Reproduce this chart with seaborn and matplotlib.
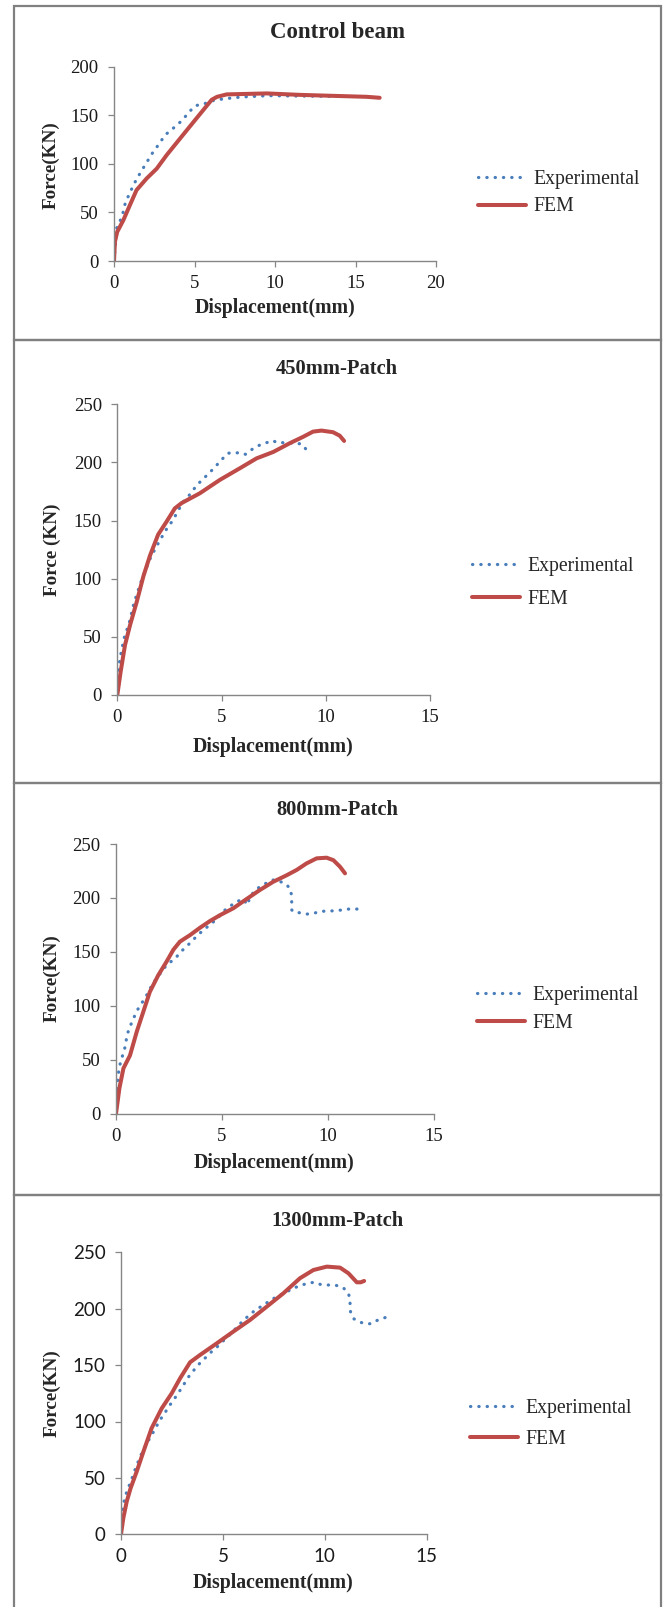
import matplotlib
matplotlib.use("Agg")
import matplotlib.pyplot as plt
import seaborn as sns
from matplotlib.patches import Rectangle

# ---------------------------------------------------------------
# Load-displacement data (displacement in mm, force in kN)
# ---------------------------------------------------------------
# Control beam
cb_exp_x = [0.0, 0.17, 0.37, 0.54, 0.62, 0.75, 0.93, 1.12, 1.3, 1.5, 1.72, 1.97, 2.2, 2.42,
            2.69, 2.94, 3.2, 3.52, 3.85, 4.18, 4.5, 4.76, 5.07, 5.5, 5.96, 6.27, 7.1, 7.93,
            8.76, 9.6, 11.35, 13.4]
cb_exp_y = [0, 34, 41, 48, 55, 62, 68, 75, 81, 87, 93, 100, 106, 112,
            118, 124, 130, 134.5, 139, 144, 150, 155, 160, 161.2, 164, 165.7, 167.4, 168.8,
            169.5, 170.2, 169.8, 169.5]
cb_fem_x = [0, 0.06, 0.2, 0.58, 1.0, 1.4, 2.03, 2.65, 3.27, 4.1, 5.13, 6.07, 6.4, 7.0,
            9.5, 11.55, 13.6, 15.7, 16.5]
cb_fem_y = [0, 20, 30, 42, 58, 73, 85, 95, 109, 126, 147, 166, 169, 171.5,
            172.5, 171, 170, 169, 168]

# 450 mm patch
p450_exp_x = [0, 0.05, 0.13, 0.21, 0.29, 0.37, 0.5, 0.61, 0.69, 0.77, 0.89, 1.0, 1.13, 1.25,
              1.4, 1.53, 1.69, 1.88, 2.04, 2.24, 2.44, 2.65, 2.9, 3.16, 3.4, 3.61, 3.85, 4.12,
              4.39, 4.65, 4.89, 5.14, 5.32, 5.6, 5.9, 6.15, 6.3, 6.52, 6.84, 7.16, 7.48, 7.64,
              8.04, 8.83, 9.07]
p450_exp_y = [0, 20, 31.5, 38.7, 46, 52, 58, 64.5, 71, 77, 84, 90, 97, 103,
              109.5, 115.5, 121.5, 127.6, 133, 139, 145, 149.7, 158, 166, 170.6, 175.7, 181, 186,
              190.4, 195.5, 200, 205, 208, 208, 208.5, 207, 209, 212, 215, 217, 218.8, 217,
              217, 216, 211]
p450_fem_x = [0, 0.16, 0.37, 0.61, 0.93, 1.25, 1.57, 1.96, 2.36, 2.76, 3.08, 3.96, 4.92,
              5.88, 6.68, 7.48, 8.27, 8.91, 9.39, 9.79, 10.35, 10.67, 10.88]
p450_fem_y = [0, 20, 43, 60, 80, 102, 120, 138, 149, 160.5, 165, 173.5, 185,
              195, 203.5, 209, 216.5, 222, 226.5, 227.4, 226, 223, 218.5]

# 800 mm patch
p800_exp_x = [0, 0.03, 0.03, 0.06, 0.09, 0.13, 0.19, 0.28, 0.38, 0.47, 0.5, 0.61, 0.74, 0.87,
              1.02, 1.21, 1.39, 1.56, 1.72, 1.92, 2.13, 2.36, 2.6, 2.87, 3.1, 3.37, 3.62, 3.87,
              4.13, 4.39, 4.65, 4.91, 5.15, 5.42, 5.7, 6.0, 6.22, 6.3, 6.52, 6.77, 7.27, 7.5,
              7.98, 8.22, 8.3, 8.3, 8.3, 8.38, 8.66, 9.0, 9.32, 9.64, 9.95, 10.27, 10.66, 11.0,
              11.37, 11.73]
p800_exp_y = [0, 11, 20, 26.6, 32.8, 39.5, 45.7, 52, 58.4, 65, 71.7, 78, 84.4, 90.2,
              96.4, 102.3, 107.8, 114, 120, 125.5, 131, 137, 141, 145.6, 150.8, 155.7, 160.7, 165.6,
              170.3, 174.3, 178.6, 183.6, 188.8, 192.8, 196.5, 199, 193.5, 199.6, 206, 210, 215.7, 217,
              213.5, 209, 202, 195, 189, 187, 186.3, 185, 185.7, 187.3, 188, 188, 188.8, 189.7,
              189.7, 189.7]
p800_fem_x = [0, 0.16, 0.35, 0.66, 0.98, 1.29, 1.6, 2.0, 2.39, 2.71, 3.02, 3.5, 3.97, 4.44,
              4.91, 5.54, 6.17, 6.8, 7.43, 8.06, 8.54, 9.0, 9.48, 9.95, 10.27, 10.58, 10.82]
p800_fem_y = [0, 23.5, 42, 54, 76, 94.5, 113, 128.5, 141, 152, 159.5, 165.6, 172.4, 178.6,
              184, 190.4, 199, 207.4, 215, 221, 226, 232, 236.7, 237.3, 235, 229, 222.8]

# 1300 mm patch
p1300_exp_x = [0, 0.07, 0.15, 0.28, 0.44, 0.6, 0.74, 0.9, 1.05, 1.26, 1.42, 1.62, 1.78, 1.96,
               2.16, 2.34, 2.54, 2.73, 2.9, 3.09, 3.26, 3.45, 3.68, 3.91, 4.17, 4.45, 4.7, 4.94,
               5.19, 5.45, 5.71, 5.97, 6.25, 6.5, 7.0, 7.48, 7.8, 8.13, 8.54, 8.87, 9.28, 9.52,
               9.77, 10.1, 10.5, 10.9, 11.16, 11.24, 11.24, 11.27, 11.43, 11.73, 12.06, 12.3,
               12.47, 12.8, 13.04]
p1300_exp_y = [0, 20, 29, 37.8, 45, 52.6, 60, 66.8, 73.3, 80, 85.7, 91.6, 97, 102.5,
               107.9, 113, 118.2, 123, 127.7, 133, 138.3, 142.7, 147.8, 152.5, 157, 162, 165.8, 170.2,
               174.3, 179, 184, 189, 193.6, 197.4, 203.5, 209, 212, 215, 218.7, 221, 223, 223.4,
               221.6, 221, 221, 218.7, 213.7, 207.7, 201.8, 196, 191, 188, 186.5, 186.8,
               189, 191, 192.7]
p1300_fem_x = [0, 0.11, 0.28, 0.47, 0.77, 1.1, 1.5, 2.0, 2.49, 2.9, 3.39, 3.88, 4.7, 5.51,
               6.33, 7.15, 7.97, 8.78, 9.44, 10.1, 10.75, 11.16, 11.57, 11.76, 11.93]
p1300_fem_y = [0, 14, 29, 40.8, 55.6, 73.3, 94, 111.7, 125, 138.3, 152.5, 159, 169.3, 179.7,
               190, 201.8, 213.7, 227, 234.3, 237.3, 236.4, 231.4, 223.4, 223.4, 224.6]

titles = ["Control beam", "450mm-Patch", "800mm-Patch", "1300mm-Patch"]
y_labels = ["Force(KN)", "Force (KN)", "Force(KN)", "Force(KN)"]
x_label = "Displacement(mm)"
series_names = ["Experimental", "FEM"]
x_ticks = [[0, 5, 10, 15, 20], [0, 5, 10, 15], [0, 5, 10, 15], [0, 5, 10, 15]]
y_ticks = [[0, 50, 100, 150, 200], [0, 50, 100, 150, 200, 250],
           [0, 50, 100, 150, 200, 250], [0, 50, 100, 150, 200, 250]]

# ---------------------------------------------------------------
# Figure layout (pixel geometry at 100 dpi)
# ---------------------------------------------------------------
W, H, DPI = 664, 1607, 100
EXP_COLOR = "#4A7EBB"
FEM_COLOR = "#BE4B48"
AXIS_COLOR = "#868686"
FRAME_COLOR = "#808080"
SERIF = ["Liberation Serif", "DejaVu Serif"]
SANS = ["Lato", "DejaVu Sans"]

sns.set_style("ticks")
plt.rcParams["font.family"] = SERIF

fig = plt.figure(figsize=(W / DPI, H / DPI), dpi=DPI)


def fx(px):
    return px / W


def fy(py):
    return 1 - py / H


panels = [
    dict(data=(cb_exp_x, cb_exp_y, cb_fem_x, cb_fem_y), box=(6, 340),
         ax=(114, 436, 66.7, 261), xmax=20, ymax=200, title_y=33, title_size=16.5,
         ylab=(51, 165), xlab=(275.5, 308), leg=(478, 193), leg_sp=0.45, tick_font=SERIF),
    dict(data=(p450_exp_x, p450_exp_y, p450_fem_x, p450_fem_y), box=(340, 783),
         ax=(117.3, 430, 404.3, 695), xmax=15, ymax=250, title_y=369, title_size=14.8,
         ylab=(52, 550), xlab=(273.5, 747), leg=(472, 583), leg_sp=0.75, tick_font=SERIF),
    dict(data=(p800_exp_x, p800_exp_y, p800_fem_x, p800_fem_y), box=(783, 1195),
         ax=(116, 433.5, 844, 1113.7), xmax=15, ymax=250, title_y=810, title_size=14.8,
         ylab=(52, 978), xlab=(274.5, 1163), leg=(477, 1009.5), leg_sp=0.45, tick_font=SERIF),
    dict(data=(p1300_exp_x, p1300_exp_y, p1300_fem_x, p1300_fem_y), box=(1195, 1625),
         ax=(121, 426.7, 1252.3, 1534.3), xmax=15, ymax=250, title_y=1221, title_size=14.8,
         ylab=(52, 1393), xlab=(273, 1583), leg=(470, 1424), leg_sp=0.6, tick_font=SANS),
]

for i, p in enumerate(panels):
    # panel frame
    top, bottom = p["box"]
    fig.add_artist(Rectangle((fx(13.5), fy(bottom)), fx(661) - fx(13.5), (bottom - top) / H,
                             transform=fig.transFigure, fill=False,
                             edgecolor=FRAME_COLOR, linewidth=1.6))

    left, right, atop, abot = p["ax"]
    ax = fig.add_axes([fx(left), fy(abot), fx(right) - fx(left), (abot - atop) / H])

    ex, ey, fx_, fy_ = p["data"]
    sns.lineplot(x=ex, y=ey, ax=ax, sort=False, estimator=None, color=EXP_COLOR,
                 linewidth=2.3, linestyle=(0, (0.1, 2.5)), dash_capstyle="round",
                 label=series_names[0])
    sns.lineplot(x=fx_, y=fy_, ax=ax, sort=False, estimator=None, color=FEM_COLOR,
                 linewidth=2.9, solid_capstyle="round", solid_joinstyle="round",
                 label=series_names[1])

    ax.set_xlim(0, p["xmax"])
    ax.set_ylim(0, p["ymax"])
    ax.set_xticks(x_ticks[i])
    ax.set_yticks(y_ticks[i])
    ax.set_xlabel("")
    ax.set_ylabel("")
    sns.despine(ax=ax)
    for side in ("left", "bottom"):
        ax.spines[side].set_color(AXIS_COLOR)
        ax.spines[side].set_linewidth(1.0)
    ax.tick_params(axis="both", direction="out", length=4, width=0.9, color=AXIS_COLOR,
                   labelsize=13.5, labelcolor="#1a1a1a")
    ax.tick_params(axis="y", pad=7)
    ax.tick_params(axis="x", pad=6)
    for lab in ax.get_xticklabels() + ax.get_yticklabels():
        lab.set_family(p["tick_font"])
    ax.patch.set_alpha(0)

    # legend to the right of the plot
    handles = ax.get_lines()[:2]
    ax.legend(handles=handles, labels=series_names, loc="center left",
              bbox_to_anchor=(fx(p["leg"][0]), fy(p["leg"][1])),
              bbox_transform=fig.transFigure, frameon=False, borderpad=0,
              borderaxespad=0, handlelength=2.45, handletextpad=0.35,
              labelspacing=p["leg_sp"], prop=dict(family=SERIF, size=14.2))

    # titles and axis labels
    fig.text(fx(337), fy(p["title_y"]), titles[i], ha="center", va="center",
             fontsize=p["title_size"], fontweight="bold", family=SERIF)
    fig.text(fx(p["xlab"][0]), fy(p["xlab"][1]), x_label, ha="center", va="center",
             fontsize=14.2, fontweight="bold", family=SERIF)
    fig.text(fx(p["ylab"][0]), fy(p["ylab"][1]), y_labels[i], ha="center", va="center",
             rotation=90, fontsize=13.8, fontweight="bold", family=SERIF)

fig.savefig("out.png", dpi=DPI, facecolor="white")
